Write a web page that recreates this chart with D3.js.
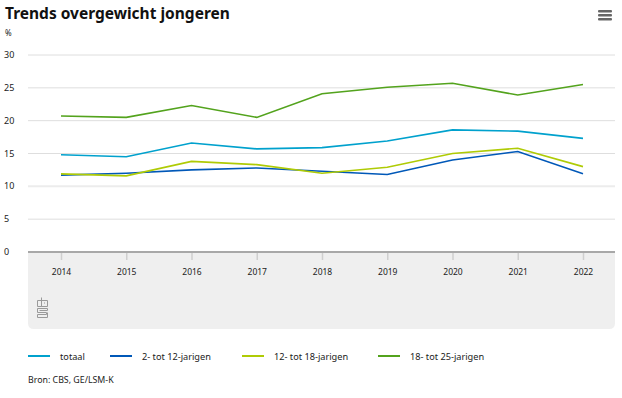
<!DOCTYPE html>
<html>
<head>
<meta charset="utf-8">
<script src="https://cdn.jsdelivr.net/npm/d3@7"></script>
<style>
  body { margin: 0; background: #fff; font-family: "Noto Sans", sans-serif; }
</style>
</head>
<body>
<script>
/* Data */
var years = ["2014", "2015", "2016", "2017", "2018", "2019", "2020", "2021", "2022"];
var totaal = [14.8, 14.5, 16.6, 15.7, 15.9, 16.9, 18.6, 18.4, 17.3];
var jr2tot12 = [11.7, 12.0, 12.5, 12.8, 12.3, 11.8, 14.0, 15.3, 11.9];
var jr12tot18 = [11.9, 11.6, 13.8, 13.3, 12.0, 12.9, 15.0, 15.8, 13.0];
var jr18tot25 = [20.7, 20.5, 22.3, 20.5, 24.1, 25.1, 25.7, 23.9, 25.5];
var yTicks = [0, 5, 10, 15, 20, 25, 30];

var series = [
  { name: "totaal", values: totaal, color: "#00a1cd" },
  { name: "2- tot 12-jarigen", values: jr2tot12, color: "#0058b8" },
  { name: "12- tot 18-jarigen", values: jr12tot18, color: "#afcb05" },
  { name: "18- tot 25-jarigen", values: jr18tot25, color: "#53a31d" }
];

/* Constants */
const w = 622;
const h = 398;
const plotLeft = 28, plotRight = 615, plotTop = 55, plotBottom = 252;

const svg = d3.select("body").append("svg")
  .attr("width", w)
  .attr("height", h);

/* Scales */
const xScale = d3.scalePoint()
  .domain(years)
  .range([61, 583]);

const yScale = d3.scaleLinear()
  .domain([0, 30])
  .range([plotBottom, plotTop]);

/* Title */
svg.append("text")
  .attr("x", 5).attr("y", 19)
  .style("font-size", "15.5px")
  .style("font-weight", "bold")
  .style("fill", "#111")
  .text("Trends overgewicht jongeren");

/* Menu icon */
[11, 15, 19].forEach(function (yy) {
  svg.append("rect")
    .attr("x", 598).attr("y", yy - 1)
    .attr("width", 14).attr("height", 2.4)
    .attr("rx", 1)
    .attr("fill", "#666");
});

svg.append("text")
  .attr("x", 5).attr("y", 36)
  .style("font-size", "8px")
  .style("fill", "#222")
  .text("%");

/* Grey x-axis band */
svg.append("path")
  .attr("d", "M" + plotLeft + "," + plotBottom + "H" + plotRight + "V" + (329 - 6) +
    "Q" + plotRight + ",329 " + (plotRight - 6) + ",329H" + (plotLeft + 6) +
    "Q" + plotLeft + ",329 " + plotLeft + "," + (329 - 6) + "Z")
  .attr("fill", "#efefef");

/* Grid */
svg.append("g").selectAll("line")
  .data(yTicks.filter(d => d > 0))
  .enter().append("line")
  .attr("x1", plotLeft).attr("x2", plotRight)
  .attr("y1", d => yScale(d)).attr("y2", d => yScale(d))
  .attr("stroke", d => d == 10 ? "#ececec" : "#dedede")
  .attr("stroke-width", d => d == 10 ? 2 : 1);

/* Y labels */
svg.append("g").selectAll("text")
  .data(yTicks)
  .enter().append("text")
  .attr("x", 4)
  .attr("y", d => yScale(d) + 3)
  .style("font-size", "9px")
  .style("fill", "#222")
  .text(d => d);

/* X axis */
const xAxis = d3.axisBottom(xScale).tickSize(8).tickPadding(9);
const gx = svg.append("g")
  .attr("transform", "translate(0," + plotBottom + ")")
  .call(xAxis);
gx.select(".domain").remove();
gx.selectAll(".tick line").attr("stroke", "#cfcfcf").attr("stroke-width", 1.5);
gx.selectAll(".tick text")
  .style("font-size", "8.5px")
  .style("font-family", "Noto Sans, sans-serif")
  .style("fill", "#222");

svg.append("line")
  .attr("x1", plotLeft).attr("x2", plotRight)
  .attr("y1", plotBottom).attr("y2", plotBottom)
  .attr("stroke", "#a8a8a8")
  .attr("stroke-width", 2);

/* CBS logo */
const logo = svg.append("g")
  .attr("transform", "translate(37.5,297.5)")
  .attr("fill", "none")
  .attr("stroke", "#9a9a9a")
  .attr("stroke-width", 1);
logo.append("path").attr("d", "M0,3 H4 V9 H0 Z M4,0 V9 H10 V3 H4 M6.5,5.5 H7.5");
logo.append("path").attr("d", "M10,11 H0 V15 H9 V17 H0 M10,11 V13 H2 M10,15 V20 H0 V17");

/* Lines */
const line = d3.line()
  .x((d, i) => xScale(years[i]))
  .y(d => yScale(d));

svg.append("g").selectAll("path")
  .data(series)
  .enter().append("path")
  .attr("d", d => line(d.values))
  .attr("fill", "none")
  .attr("stroke", d => d.color)
  .attr("stroke-width", 1.6);

/* Legend */
const legendX = [28, 110, 242, 378];
const leg = svg.append("g").selectAll("g")
  .data(series)
  .enter().append("g")
  .attr("transform", (d, i) => "translate(" + legendX[i] + ",356)");
leg.append("line")
  .attr("x1", 0).attr("x2", 22)
  .attr("stroke", d => d.color)
  .attr("stroke-width", 2);
leg.append("text")
  .attr("x", 32).attr("y", 3.5)
  .style("font-size", "9.2px")
  .style("fill", "#222")
  .text(d => d.name);

/* Source */
svg.append("text")
  .attr("x", 28).attr("y", 383)
  .style("font-size", "8.8px")
  .style("fill", "#222")
  .text("Bron: CBS, GE/LSM-K");
</script>
</body>
</html>
